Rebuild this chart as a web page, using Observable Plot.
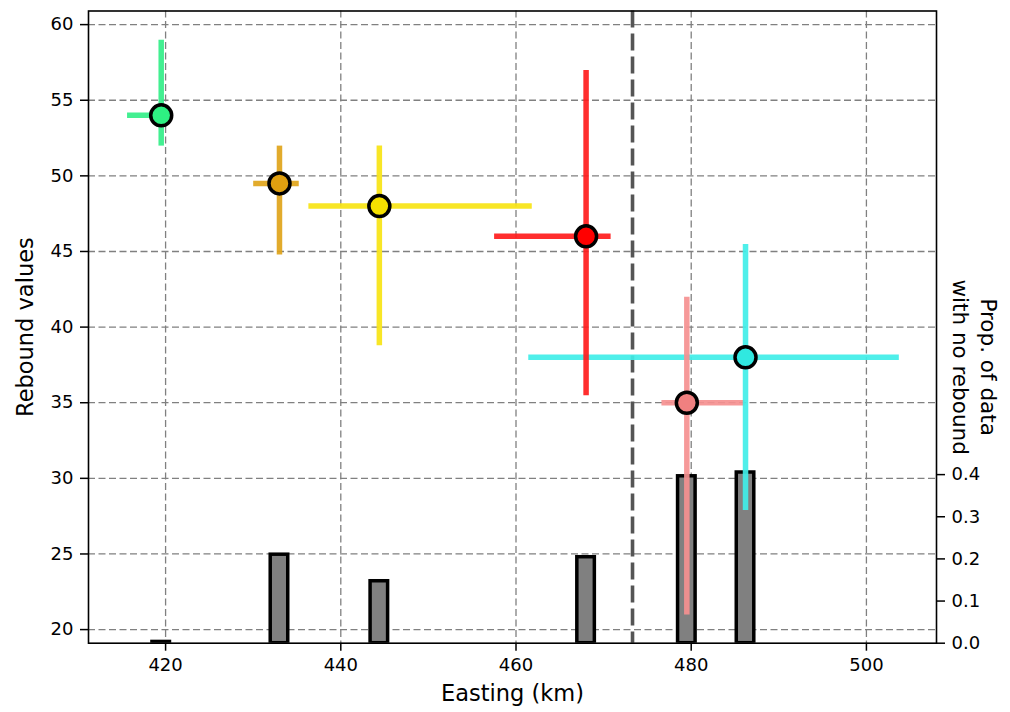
<!DOCTYPE html>
<html>
<head>
<meta charset="utf-8">
<script src="https://cdn.jsdelivr.net/npm/d3@7"></script>
<script src="https://cdn.jsdelivr.net/npm/@observablehq/plot@0.6"></script>
<style>
  html, body { margin: 0; padding: 0; background: #fff; }
  #wrap { position: relative; width: 1010px; height: 712px; font-family: "DejaVu Sans", sans-serif; }
  #wrap svg { position: absolute; left: 0; top: 0; background: transparent; overflow: visible; }
</style>
</head>
<body>
<div id="wrap"></div>
<script>
// ---- data ----
const easting   = [419.5, 433.0, 444.4, 468.0, 479.5, 486.2];
const rebound   = [54.0, 49.5, 48.0, 46.0, 35.0, 38.0];
const xLow      = [415.6, 430.0, 436.3, 457.5, 476.6, 461.4];
const xHigh     = [420.0, 435.2, 461.8, 470.8, 486.1, 503.7];
const yLow      = [52.0, 44.8, 38.8, 35.5, 21.0, 27.9];
const yHigh     = [59.0, 52.0, 52.0, 57.0, 42.0, 45.5];
const barColors = ["#33ee88", "#e0a41a", "#f7e414", "#ff1c1c", "#f59090", "#40eee8"];
const dotColors = ["#2ef082", "#e0a010", "#f5e000", "#ff0000", "#f08080", "#30e8e0"];
const propNoRebound = [0.003, 0.21, 0.147, 0.204, 0.396, 0.405];
const boundaryEasting = [473.3];
const xTicks = [420, 440, 460, 480, 500];
const yTicks = [20, 25, 30, 35, 40, 45, 50, 55, 60];
const rightTicks = [0.0, 0.1, 0.2, 0.3, 0.4];
const xLabel = "Easting (km)";
const yLabel = "Rebound values";
const rightLabel = "Prop. of data\nwith no rebound";

const rows = easting.map((x, i) => ({
  x, y: rebound[i], x1: xLow[i], x2: xHigh[i], y1: yLow[i], y2: yHigh[i],
  c: barColors[i], d: dotColors[i], p: propNoRebound[i]
}));

const W = 1010, H = 712;
const margins = {marginLeft: 88, marginRight: 74, marginTop: 10.5, marginBottom: 69.3};
const xDomain = [411.2, 508.0];
const yDomain = [19.1, 60.9];
const rightDomain = [0, 1.5];
const baseStyle = {fontFamily: "DejaVu Sans, sans-serif", fontSize: "18px", color: "#000", background: "transparent"};
const gridStyle = {stroke: "#808080", strokeOpacity: 1, strokeWidth: 1.3, strokeDasharray: "7,3.5"};

// Layer 1: grid, left & bottom axes, axis titles
const layer1 = Plot.plot({
  width: W, height: H, ...margins,
  style: baseStyle,
  x: {domain: xDomain, axis: null},
  y: {domain: yDomain, axis: null},
  marks: [
    Plot.gridX(xTicks, gridStyle),
    Plot.gridY(yTicks, gridStyle),
    Plot.axisX(xTicks, {tickSize: 8, tickPadding: 7, label: null, strokeWidth: 1.5}),
    Plot.axisY(yTicks, {tickSize: 8, tickPadding: 7, label: null, strokeWidth: 1.5}),
    Plot.text([xLabel], {frameAnchor: "bottom", textAnchor: "middle", lineAnchor: "middle", dy: 51, fill: "#000"}),
    Plot.text([yLabel], {frameAnchor: "left", textAnchor: "middle", lineAnchor: "middle", dx: -63, rotate: -90, fill: "#000"})
  ]
});

// Layer 2: bars on the right (proportion) axis
const layer2 = Plot.plot({
  width: W, height: H, ...margins,
  style: baseStyle,
  x: {domain: xDomain, axis: null},
  y: {domain: rightDomain, axis: null},
  marks: [
    Plot.rectY(rows, {x1: d => d.x - 1, x2: d => d.x + 1, y1: 0, y2: "p",
      fill: "#808080", stroke: "#000", strokeWidth: 3.5, clip: true}),
    Plot.axisY(rightTicks, {anchor: "right", tickSize: 8, tickPadding: 7,
      tickFormat: d3.format(".1f"), label: null, strokeWidth: 1.5}),
    Plot.text([rightLabel], {frameAnchor: "right", textAnchor: "middle", lineAnchor: "middle",
      dx: 39, dy: 40, rotate: 90, fill: "#000", lineHeight: 1.3})
  ]
});

// Layer 3: boundary line, error bars, points, frame
const layer3 = Plot.plot({
  width: W, height: H, ...margins,
  style: baseStyle,
  x: {domain: xDomain, axis: null},
  y: {domain: yDomain, axis: null},
  marks: [
    Plot.ruleX(boundaryEasting, {stroke: "#555", strokeWidth: 3.6, strokeDasharray: "17,6"}),
    Plot.link(rows, {x1: "x1", x2: "x2", y1: "y", y2: "y", stroke: d => d.c, strokeWidth: 5.5, strokeOpacity: 0.92, strokeLinecap: "butt"}),
    Plot.link(rows, {x1: "x", x2: "x", y1: "y1", y2: "y2", stroke: d => d.c, strokeWidth: 5.5, strokeOpacity: 0.92, strokeLinecap: "butt"}),
    Plot.dot(rows, {x: "x", y: "y", r: 10.5, fill: d => d.d, stroke: "#000", strokeWidth: 3.5}),
    Plot.frame({stroke: "#000", strokeWidth: 1.6})
  ]
});

// font sizes: every text 18px (tick labels), axis titles larger
[layer1, layer2].forEach(svg => {
  d3.select(svg).selectAll("text").style("font-size", "18px");
});
d3.select(layer1).selectAll('g[aria-label="text"] text').style("font-size", "22.5px");
d3.select(layer2).selectAll('g[aria-label="text"] text').style("font-size", "21.5px");

const wrap = document.getElementById("wrap");
wrap.appendChild(layer1);
wrap.appendChild(layer2);
wrap.appendChild(layer3);
</script>
</body>
</html>
